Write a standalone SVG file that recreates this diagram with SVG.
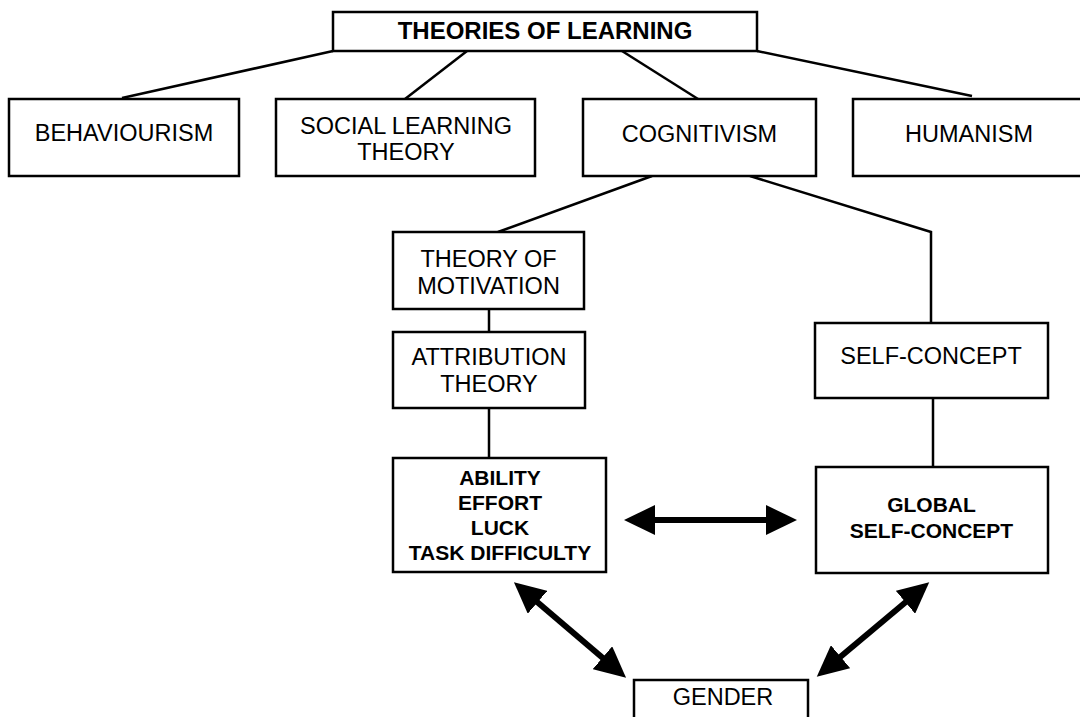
<svg xmlns="http://www.w3.org/2000/svg" width="1080" height="717" viewBox="0 0 1080 717">
  <defs>
    <style>
      .box { fill: #ffffff; stroke: #000000; stroke-width: 2.5; }
      .link { fill: none; stroke: #000000; stroke-width: 2.5; }
      .dbl { fill: none; stroke: #000000; stroke-width: 6; }
      .lbl { font-family: "Liberation Sans", Arial, sans-serif; font-size: 23.5px; fill: #000000; text-anchor: middle; }
      .head { font-weight: bold; font-size: 24px; }
      .sub { font-weight: bold; font-size: 21px; }
    </style>
    <marker id="tip" markerUnits="userSpaceOnUse" markerWidth="32" markerHeight="30" viewBox="0 0 32 30" refX="2" refY="15" orient="auto-start-reverse">
      <path d="M0,0 L31,15 L0,30 Z" fill="#000000"/>
    </marker>
  </defs>

  <rect width="1080" height="717" fill="#ffffff"/>

  <!-- connectors -->
  <g id="connectors">
    <line class="link" x1="333" y1="51" x2="122" y2="98"/>
    <line class="link" x1="467" y1="51" x2="405" y2="99"/>
    <line class="link" x1="622" y1="51" x2="698" y2="99"/>
    <line class="link" x1="757" y1="51" x2="972" y2="96"/>
    <line class="link" x1="652" y1="176" x2="498" y2="232"/>
    <polyline class="link" points="750,176 931,232 931,323"/>
    <line class="link" x1="489" y1="309" x2="489" y2="332"/>
    <line class="link" x1="489" y1="408" x2="489" y2="458"/>
    <line class="link" x1="933" y1="398" x2="933" y2="467"/>
    <line class="dbl" x1="653" y1="520" x2="768" y2="520" marker-start="url(#tip)" marker-end="url(#tip)"/>
    <line class="dbl" x1="536" y1="601" x2="604" y2="659" stroke-width="5.5" marker-start="url(#tip)" marker-end="url(#tip)"/>
    <line class="dbl" x1="907" y1="601" x2="839" y2="658" stroke-width="5.5" marker-start="url(#tip)" marker-end="url(#tip)"/>
  </g>

  <g id="theories">
    <rect class="box" x="333" y="12" width="424" height="39"/>
    <text class="lbl head" x="545" y="39">THEORIES OF LEARNING</text>
  </g>

  <g id="behaviourism">
    <rect class="box" x="9" y="99" width="230" height="77"/>
    <text class="lbl" x="124" y="141">BEHAVIOURISM</text>
  </g>

  <g id="social-learning">
    <rect class="box" x="276" y="99" width="259" height="77"/>
    <text class="lbl" x="406" y="134">SOCIAL LEARNING</text>
    <text class="lbl" x="406" y="160">THEORY</text>
  </g>

  <g id="cognitivism">
    <rect class="box" x="583" y="99" width="233" height="77"/>
    <text class="lbl" x="699.5" y="142">COGNITIVISM</text>
  </g>

  <g id="humanism">
    <rect class="box" x="853" y="99" width="240" height="77"/>
    <text class="lbl" x="969" y="142">HUMANISM</text>
  </g>

  <g id="motivation">
    <rect class="box" x="393" y="232" width="191" height="77"/>
    <text class="lbl" x="488.5" y="267">THEORY OF</text>
    <text class="lbl" x="488.5" y="294">MOTIVATION</text>
  </g>

  <g id="attribution">
    <rect class="box" x="393" y="332" width="192" height="76"/>
    <text class="lbl" x="489" y="365">ATTRIBUTION</text>
    <text class="lbl" x="489" y="392">THEORY</text>
  </g>

  <g id="self-concept">
    <rect class="box" x="815" y="323" width="233" height="75"/>
    <text class="lbl" x="931" y="364">SELF-CONCEPT</text>
  </g>

  <g id="attributions">
    <rect class="box" x="393" y="458" width="213" height="114"/>
    <text class="lbl sub" x="500" y="485">ABILITY</text>
    <text class="lbl sub" x="500" y="510">EFFORT</text>
    <text class="lbl sub" x="500" y="535">LUCK</text>
    <text class="lbl sub" x="500" y="560">TASK DIFFICULTY</text>
  </g>

  <g id="global-self-concept">
    <rect class="box" x="816" y="467" width="232" height="106"/>
    <text class="lbl sub" x="931.5" y="512">GLOBAL</text>
    <text class="lbl sub" x="931.5" y="538">SELF-CONCEPT</text>
  </g>

  <g id="gender">
    <rect class="box" x="634" y="680" width="174" height="50"/>
    <text class="lbl" x="723" y="705">GENDER</text>
  </g>
</svg>
